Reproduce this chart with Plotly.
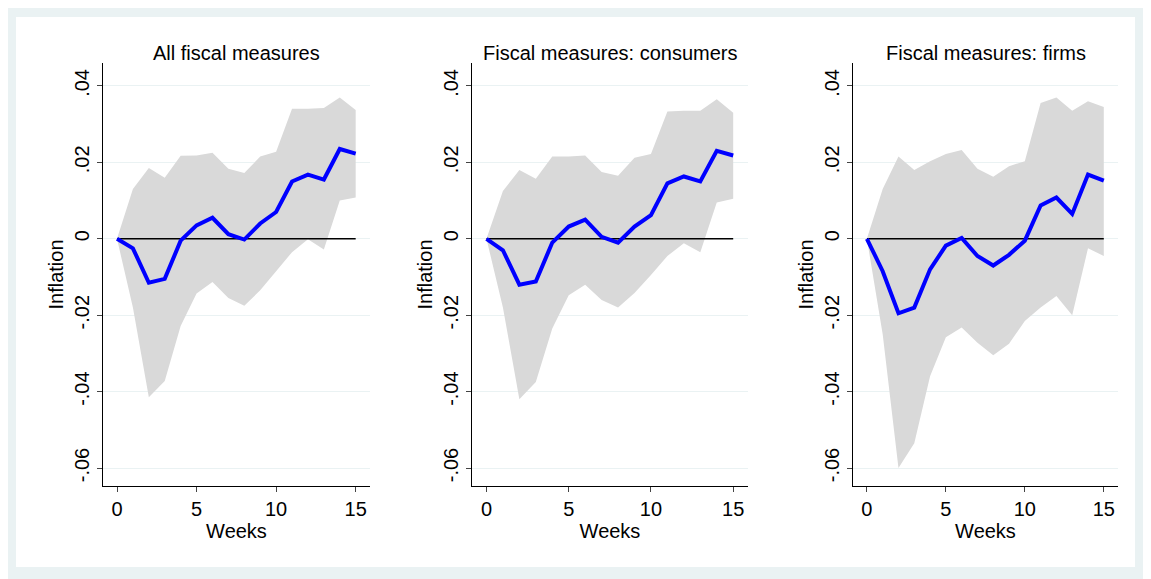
import plotly.graph_objects as go

weeks = list(range(16))
titles = ["All fiscal measures", "Fiscal measures: consumers", "Fiscal measures: firms"]

irf_all = [0, -0.0025, -0.0115, -0.0105, -0.0005, 0.0035, 0.0055, 0.0012, -0.0002, 0.004, 0.007, 0.015, 0.0168, 0.0155, 0.0235, 0.0223]
up_all = [0, 0.013, 0.0185, 0.016, 0.0217, 0.0218, 0.0225, 0.0183, 0.0172, 0.0215, 0.0228, 0.034, 0.034, 0.0342, 0.037, 0.0337]
lo_all = [0, -0.018, -0.0415, -0.0372, -0.0228, -0.0143, -0.0113, -0.0155, -0.0175, -0.0135, -0.0085, -0.0035, -0.0001, -0.0028, 0.01, 0.0108]

irf_cons = [0, -0.003, -0.012, -0.0112, -0.001, 0.0032, 0.005, 0.0005, -0.001, 0.0032, 0.0062, 0.0145, 0.0163, 0.015, 0.023, 0.0218]
up_cons = [0, 0.0125, 0.018, 0.0157, 0.0215, 0.0215, 0.0218, 0.0175, 0.0165, 0.0212, 0.0222, 0.0333, 0.0335, 0.0335, 0.0365, 0.033]
lo_cons = [0, -0.018, -0.042, -0.0375, -0.0235, -0.0148, -0.012, -0.016, -0.018, -0.0142, -0.0095, -0.0045, -0.0012, -0.0035, 0.0095, 0.0105]

irf_firm = [0, -0.0085, -0.0195, -0.018, -0.008, -0.0018, 0.0002, -0.0045, -0.007, -0.0042, -0.0005, 0.0087, 0.0108, 0.0065, 0.0168, 0.0152]
up_firm = [0, 0.013, 0.0215, 0.018, 0.0203, 0.0222, 0.0232, 0.0183, 0.0162, 0.019, 0.0203, 0.0355, 0.037, 0.0335, 0.036, 0.0345]
lo_firm = [0, -0.025, -0.06, -0.0535, -0.036, -0.0258, -0.0232, -0.0272, -0.0305, -0.0275, -0.0215, -0.018, -0.015, -0.02, -0.0025, -0.0045]

y_ticks = [-0.06, -0.04, -0.02, 0, 0.02, 0.04]
y_labels = ["-.06", "-.04", "-.02", "0", ".02", ".04"]

panels = [(irf_all, up_all, lo_all), (irf_cons, up_cons, lo_cons), (irf_firm, up_firm, lo_firm)]
# page body has an 8px margin, so positions are shifted up/left by 8px
W, H = 1151, 579
px = lambda v: (v - 8) / W
py = lambda v: 1 - (v - 8) / H
domains = [(px(103), px(370)), (px(472), px(748)), (px(853), px(1118))]
ydom = [py(486), py(63)]

fig = go.Figure()
font = dict(family="Liberation Sans, Arial", color="black")

for i, (irf, up, lo) in enumerate(panels):
    n = "" if i == 0 else str(i + 1)
    xa, ya = "x" + n, "y" + n
    fig.add_trace(go.Scatter(x=weeks, y=lo, mode="lines", line=dict(width=0), xaxis=xa, yaxis=ya,
                             showlegend=False, hoverinfo="skip"))
    fig.add_trace(go.Scatter(x=weeks, y=up, mode="lines", line=dict(width=0), fill="tonexty",
                             fillcolor="#d9d9d9", xaxis=xa, yaxis=ya, showlegend=False))
    fig.add_trace(go.Scatter(x=[0, 15], y=[0, 0], mode="lines", line=dict(color="black", width=1.5),
                             xaxis=xa, yaxis=ya, showlegend=False))
    fig.add_trace(go.Scatter(x=weeks, y=irf, mode="lines", line=dict(color="#0000ff", width=4),
                             xaxis=xa, yaxis=ya, showlegend=False))
    fig.layout["xaxis" + n] = dict(domain=domains[i], range=[-0.88, 15.9], tickvals=[0, 5, 10, 15],
                                   showgrid=False, zeroline=False, showline=True, linecolor="black",
                                   ticks="outside", ticklen=5, anchor=ya,
                                   title=dict(text="Weeks", font=dict(size=20), standoff=0),
                                   tickfont=dict(size=20))
    fig.layout["yaxis" + n] = dict(domain=ydom, range=[-0.0647, 0.046], tickvals=y_ticks,
                                   ticktext=y_labels, tickangle=-90, showgrid=True, gridcolor="#eaf2f3",
                                   zeroline=False, showline=True, linecolor="black", ticks="outside",
                                   ticklen=5, anchor=xa, tickfont=dict(size=20),
                                   title=dict(text="Inflation", font=dict(size=20), standoff=2))
    fig.add_annotation(text=titles[i], x=sum(domains[i]) / 2, y=py(53), xref="paper", yref="paper",
                       showarrow=False, font=dict(size=20), xanchor="center", yanchor="middle")

fig.add_shape(type="rect", xref="paper", yref="paper", x0=px(16), x1=px(1135), y0=py(567), y1=py(17),
              fillcolor="white", line=dict(width=0), layer="below")
fig.update_layout(width=W, height=H, margin=dict(l=0, r=0, t=0, b=0),
                  paper_bgcolor="#eaf2f3", plot_bgcolor="rgba(0,0,0,0)", font=font)
fig.write_html("out.html")
